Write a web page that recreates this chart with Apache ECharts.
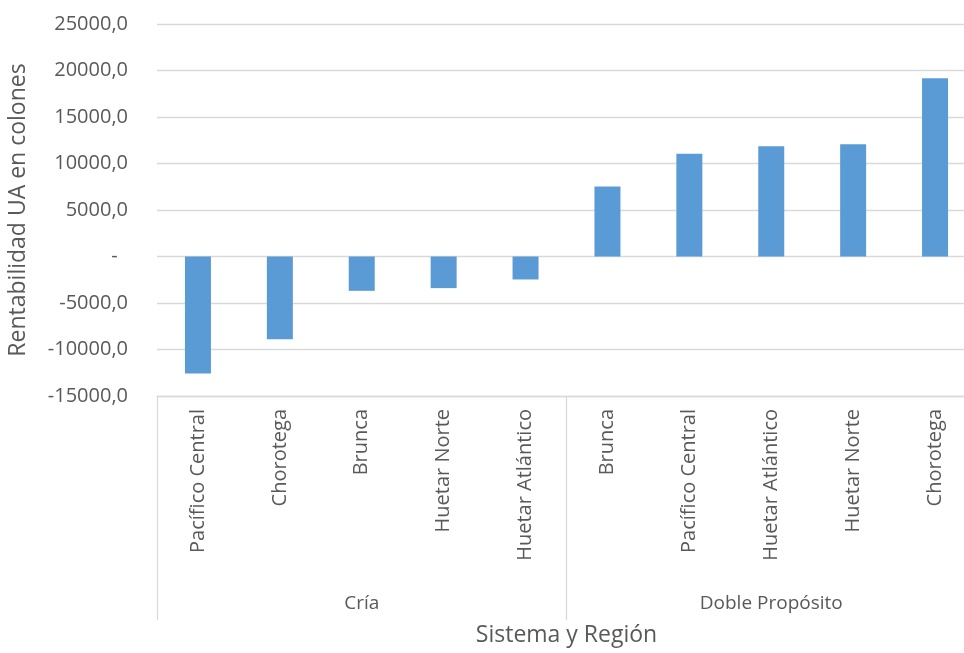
<!DOCTYPE html>
<html>
<head>
<meta charset="utf-8">
<script src="https://cdn.jsdelivr.net/npm/echarts@6/dist/echarts.min.js"></script>
<style>
html,body{margin:0;padding:0;background:#fff;}
#chart{width:964px;height:653px;}
</style>
</head>
<body>
<div id="chart"></div>
<script>
const regions = ['Pacífico Central','Chorotega','Brunca','Huetar Norte','Huetar Atlántico','Brunca','Pacífico Central','Huetar Atlántico','Huetar Norte','Chorotega'];
const systems = ['Cría','Doble Propósito'];
const rentabilidad = [-12580,-8890,-3690,-3400,-2470,7530,11040,11860,12080,19180];
const yMin = -15000, yMax = 25000, yStep = 5000;

const FONT = '"Open Sans", sans-serif';
const TXT = '#595959';
const GRID = '#d9d9d9';

const chart = echarts.init(document.getElementById('chart'), null, {renderer:'canvas'});
chart.setOption({
  animation:false,
  backgroundColor:'#fff',
  textStyle:{fontFamily:FONT},
  grid:{left:157, top:24, width:819, height:372, containLabel:false, outerBoundsMode:'none'},
  xAxis:[{
    type:'category',
    data:regions,
    position:'bottom',
    axisLine:{show:true, onZero:false, lineStyle:{color:GRID, width:1.3}},
    axisTick:{show:false},
    axisLabel:{rotate:90, interval:0, margin:13, color:TXT, fontSize:20, fontFamily:FONT}
  },{
    type:'category',
    data:systems,
    position:'bottom',
    axisLine:{show:false, onZero:false},
    axisTick:{show:true, length:224, interval:0, lineStyle:{color:GRID, width:1.3}},
    axisLabel:{interval:0, margin:198, color:TXT, fontSize:19, fontFamily:FONT},
    name:'Sistema y Región',
    nameLocation:'middle',
    nameGap:228,
    nameTextStyle:{color:TXT, fontSize:23, fontFamily:FONT}
  }],
  yAxis:{
    type:'value',
    min:yMin, max:yMax, interval:yStep,
    axisLine:{show:false},
    axisTick:{show:false},
    splitLine:{lineStyle:{color:GRID, width:1.3}},
    axisLabel:{margin:29, color:TXT, fontSize:20, fontFamily:FONT,
      formatter:v => v === 0 ? '-  ' : v.toFixed(1).replace('.', ',')},
    name:'Rentabilidad UA en colones',
    nameLocation:'middle',
    nameGap:127,
    nameTextStyle:{color:TXT, fontSize:23, fontFamily:FONT}
  },
  series:[{
    type:'bar',
    xAxisIndex:0,
    data:rentabilidad,
    barWidth:26,
    itemStyle:{color:'#5b9bd5'}
  }]
});
</script>
</body>
</html>
